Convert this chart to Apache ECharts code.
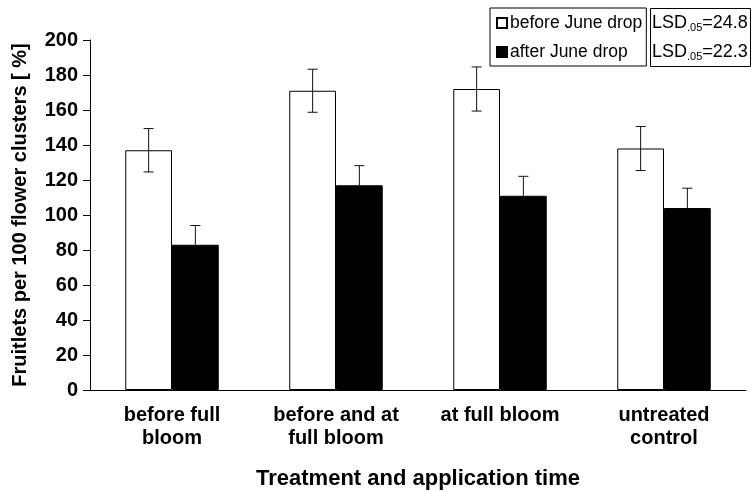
<!DOCTYPE html>
<html>
<head>
<meta charset="utf-8">
<script src="https://cdn.jsdelivr.net/npm/echarts@6/dist/echarts.min.js"></script>
<style>html,body{margin:0;padding:0;background:#fff}#c{width:752px;height:491px}</style>
</head>
<body>
<div id="c"></div>
<script>
const categories = ['before full\nbloom', 'before and at\nfull bloom', 'at full bloom', 'untreated\ncontrol'];
const beforeDrop = [137, 171, 172, 138];
const beforeErr = [12.4, 12.3, 12.6, 12.6];
const afterDrop = [83, 117, 111, 104];
const afterErr = [11, 11.2, 11.1, 11.3];
const yTicks = { min: 0, max: 200, interval: 20 };
const lsdLines = ['24.8', '22.3'];

const FONT = '"Liberation Sans", Arial, Helvetica, sans-serif';
const chart = echarts.init(document.getElementById('c'));

function errSeries(vals, errs, side, name, showLower) {
  return {
    type: 'custom',
    name: name + ' err',
    z: 5,
    silent: true,
    data: vals.map((v, i) => [i, v, errs[i]]),
    renderItem: function (params, api) {
      const i = api.value(0), v = api.value(1), e = api.value(2);
      const catW = api.size([1, 0])[0];
      const off = side * catW * 0.57 / 4;
      const top = api.coord([i, v + e]);
      const mid = api.coord([i, v]);
      const bot = api.coord([i, v - e]);
      const x = top[0] + off;
      const cap = 5;
      const st = { stroke: '#111', lineWidth: 1 };
      const children = [
        { type: 'line', shape: { x1: x, y1: top[1], x2: x, y2: showLower ? bot[1] : mid[1] }, style: st },
        { type: 'line', shape: { x1: x - cap, y1: top[1], x2: x + cap, y2: top[1] }, style: st }
      ];
      if (showLower) {
        children.push({ type: 'line', shape: { x1: x - cap, y1: bot[1], x2: x + cap, y2: bot[1] }, style: st });
      }
      return { type: 'group', children: children };
    }
  };
}

const lsdRich = {
  a: { fontSize: 18, fontFamily: FONT, color: '#000' },
  s: { fontSize: 11, fontFamily: FONT, color: '#000', padding: [9, 0, 0, 0] }
};

chart.setOption({
  animation: false,
  textStyle: { fontFamily: FONT },
  grid: { left: 90, right: 6, top: 40, bottom: 101, containLabel: false, outerBoundsMode: 'none' },
  legend: {
    orient: 'vertical', left: 490, top: 8,
    padding: [6, 4, 5, 6], itemGap: 11, itemWidth: 10, itemHeight: 10,
    borderColor: '#000', borderWidth: 1, icon: 'rect',
    textStyle: { fontSize: 17.5, color: '#000', fontFamily: FONT, padding: [0, 0, 0, -2] },
    data: ['before June drop', 'after June drop']
  },
  xAxis: {
    type: 'category', data: categories,
    axisLine: { lineStyle: { color: '#000', width: 1 } },
    axisTick: { length: 6, lineStyle: { color: '#000' } },
    axisLabel: { color: '#000', fontSize: 20, fontWeight: 'bold', lineHeight: 23, margin: 14, interval: 0 },
    name: 'Treatment and application time', nameLocation: 'middle', nameGap: 78,
    nameTextStyle: { color: '#000', fontSize: 22, fontWeight: 'bold' }
  },
  yAxis: {
    type: 'value', min: yTicks.min, max: yTicks.max, interval: yTicks.interval,
    axisLine: { show: true, lineStyle: { color: '#000', width: 1 } },
    axisTick: { show: true, length: 7, lineStyle: { color: '#000' } },
    splitLine: { show: false },
    axisLabel: { color: '#000', fontSize: 20, fontWeight: 'bold', margin: 12 },
    name: 'Fruitlets per 100 flower clusters [ %]', nameLocation: 'middle', nameGap: 60,
    nameTextStyle: { color: '#000', fontSize: 20, fontWeight: 'bold' }
  },
  graphic: [
    { type: 'rect', left: 650, top: 8, shape: { width: 100, height: 58 }, style: { fill: '#fff', stroke: '#000', lineWidth: 1 } },
    { type: 'text', left: 652, top: 14, style: { text: '{a|LSD}{s|.05}{a|=' + lsdLines[0] + '}', rich: lsdRich } },
    { type: 'text', left: 652, top: 43, style: { text: '{a|LSD}{s|.05}{a|=' + lsdLines[1] + '}', rich: lsdRich } }
  ],
  series: [
    { type: 'bar', name: 'before June drop', data: beforeDrop, barGap: '0%', barCategoryGap: '43%',
      itemStyle: { color: '#fff', borderColor: '#000', borderWidth: 1 } },
    { type: 'bar', name: 'after June drop', data: afterDrop,
      itemStyle: { color: '#000', borderColor: '#000', borderWidth: 1 } },
    errSeries(beforeDrop, beforeErr, -1, 'before', true),
    errSeries(afterDrop, afterErr, 1, 'after', false)
  ]
});
</script>
</body>
</html>
